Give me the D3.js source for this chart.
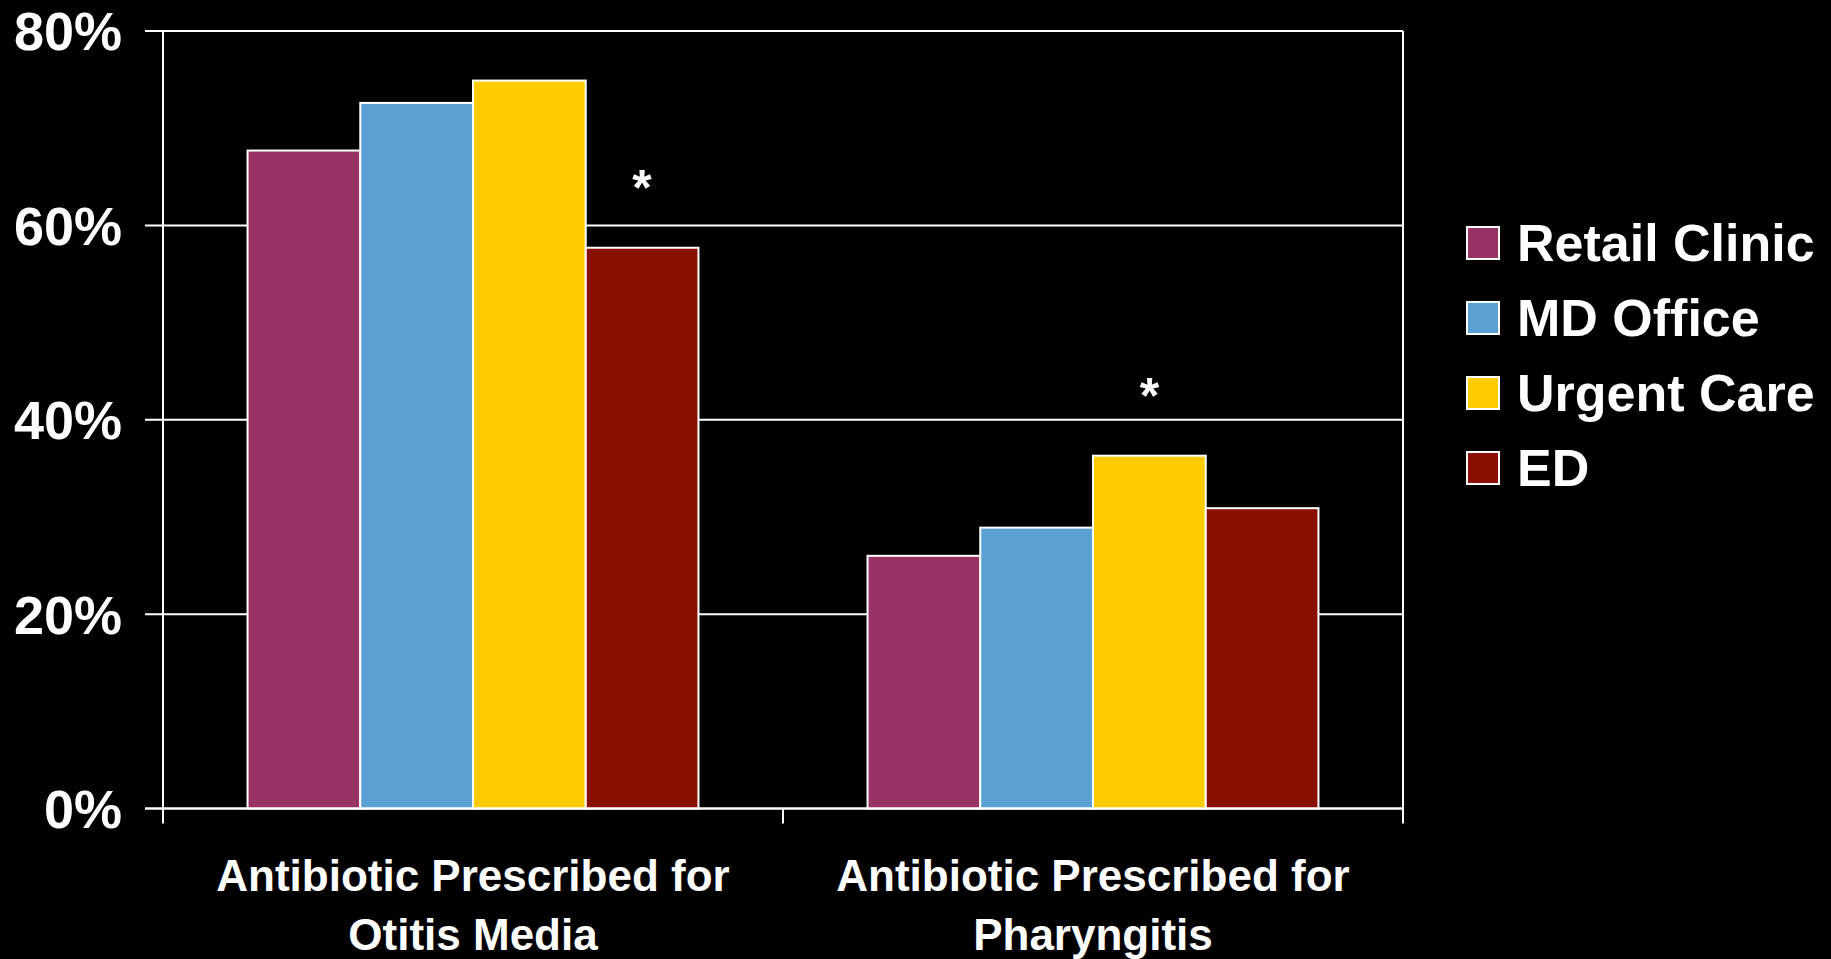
<!DOCTYPE html>
<html>
<head>
<meta charset="utf-8">
<script src="https://cdn.jsdelivr.net/npm/d3@7"></script>
<style>
  html, body { margin: 0; padding: 0; background: #000; }
  svg { display: block; }
  text { font-family: "Liberation Sans", Arial, sans-serif; font-weight: bold; fill: #fff; }
</style>
</head>
<body>
<svg id="chart" width="1831" height="959"></svg>
<script>
// Share of visits with an antibiotic prescribed, by care setting
const categories = [
  ["Antibiotic Prescribed for", "Otitis Media"],
  ["Antibiotic Prescribed for", "Pharyngitis"]
];
const settings = ["Retail Clinic", "MD Office", "Urgent Care", "ED"];
const otitisMedia = [0.677, 0.726, 0.749, 0.577];
const pharyngitis = [0.260, 0.289, 0.363, 0.309];
const seriesColors = ["#993366", "#5ba0d3", "#ffcc00", "#8b1004"];
const yTicks = [0, 0.2, 0.4, 0.6, 0.8];
// significance markers: [category index, setting index]
const markers = [[0, 3], [1, 2]];

const values = [otitisMedia, pharyngitis];

const svg = d3.select("#chart");
const plotLeft = 163, plotRight = 1403, plotTop = 31, plotBottom = 808.5;

const x0 = d3.scaleBand()
  .domain(d3.range(categories.length))
  .range([plotLeft, plotRight])
  .paddingInner(0.2727)
  .paddingOuter(0.13636);

const x1 = d3.scaleBand()
  .domain(d3.range(settings.length))
  .range([0, x0.bandwidth()]);

const y = d3.scaleLinear().domain([0, 0.8]).range([plotBottom, plotTop]);

// horizontal gridlines with outward ticks on the left
svg.append("g")
  .selectAll("line")
  .data(yTicks)
  .join("line")
  .attr("x1", plotLeft - 18)
  .attr("x2", plotRight)
  .attr("y1", d => y(d))
  .attr("y2", d => y(d))
  .attr("stroke", "#fff")
  .attr("stroke-width", 2);

// y tick labels
svg.append("g")
  .selectAll("text")
  .data(yTicks)
  .join("text")
  .attr("x", 122)
  .attr("y", d => y(d))
  .attr("dy", "0.36em")
  .attr("text-anchor", "end")
  .style("font-size", "54px")
  .text(d => d3.format(".0%")(d));

// bars
const groups = svg.append("g")
  .selectAll("g")
  .data(values)
  .join("g")
  .attr("transform", (d, i) => `translate(${x0(i)},0)`);

groups.selectAll("rect")
  .data(d => d)
  .join("rect")
  .attr("x", (d, j) => x1(j))
  .attr("y", d => y(d))
  .attr("width", x1.bandwidth())
  .attr("height", d => y(0) - y(d))
  .attr("fill", (d, j) => seriesColors[j])
  .attr("stroke", "#fff")
  .attr("stroke-width", 2);

// axis frame: left axis, right border, baseline
svg.append("line")
  .attr("x1", plotLeft).attr("x2", plotLeft)
  .attr("y1", plotTop).attr("y2", plotBottom + 15)
  .attr("stroke", "#fff").attr("stroke-width", 2);
svg.append("line")
  .attr("x1", plotRight).attr("x2", plotRight)
  .attr("y1", plotTop).attr("y2", plotBottom + 15)
  .attr("stroke", "#fff").attr("stroke-width", 2);
svg.append("line")
  .attr("x1", plotLeft - 18).attr("x2", plotRight)
  .attr("y1", plotBottom).attr("y2", plotBottom)
  .attr("stroke", "#fff").attr("stroke-width", 2);
// category separator tick
svg.append("line")
  .attr("x1", x0.step() + plotLeft).attr("x2", x0.step() + plotLeft)
  .attr("y1", plotBottom).attr("y2", plotBottom + 15)
  .attr("stroke", "#fff").attr("stroke-width", 2);

// category labels (two lines each)
const labels = svg.append("g")
  .selectAll("text")
  .data(categories)
  .join("text")
  .attr("text-anchor", "middle")
  .style("font-size", "44px");
labels.selectAll("tspan")
  .data((d, i) => d.map(line => ({ line, i })))
  .join("tspan")
  .attr("x", d => x0(d.i) + x0.bandwidth() / 2)
  .attr("y", (d, k) => 891 + k * 59)
  .text(d => d.line);

// significance asterisks
svg.append("g")
  .selectAll("text")
  .data(markers)
  .join("text")
  .attr("x", d => x0(d[0]) + x1(d[1]) + x1.bandwidth() / 2)
  .attr("y", d => y(values[d[0]][d[1]]) - 70)
  .attr("dy", "0.55em")
  .attr("text-anchor", "middle")
  .style("font-size", "50px")
  .text("*");

// legend
const legend = svg.append("g")
  .selectAll("g")
  .data(settings)
  .join("g")
  .attr("transform", (d, i) => `translate(1467,${227 + i * 75})`);
legend.append("rect")
  .attr("width", 32)
  .attr("height", 32)
  .attr("fill", (d, i) => seriesColors[i])
  .attr("stroke", "#fff")
  .attr("stroke-width", 2);
legend.append("text")
  .attr("x", 50)
  .attr("y", 34)
  .style("font-size", "52px")
  .text(d => d);
</script>
</body>
</html>
